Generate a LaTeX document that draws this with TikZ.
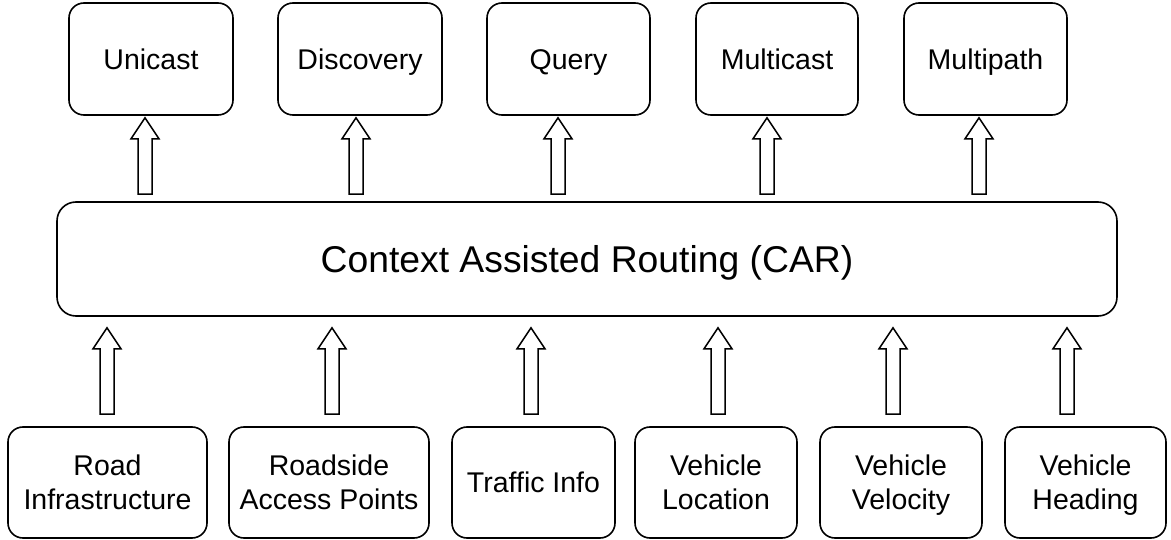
\documentclass[tikz,border=0pt]{standalone}
\usepackage{fontspec}
\setmainfont{Liberation Sans}
\usetikzlibrary{calc}
\tikzset{
  box/.style={draw, line width=1.6pt, rounded corners=15pt, minimum height=112pt,
    inner sep=0pt, text height=20.4pt, text depth=0pt, font=\fontsize{28.5}{33.5}\selectfont},
  carbox/.style={draw, line width=1.6pt, rounded corners=19pt, minimum width=1060pt,
    minimum height=114pt, inner sep=0pt, text height=26.7pt, text depth=0pt,
    font=\fontsize{37.3}{44}\selectfont},
  blockarrow/.style={draw, line width=1.5pt, fill=white, line join=miter}
}
\newcommand{\twol}[2]{\raisebox{0pt}[53.9pt][0pt]{\begin{tabular}[b]{@{}c@{}}#1\\#2\end{tabular}}}
\newcommand{\blockarr}[2]{%
  \draw[blockarrow] ($(#1)+(-7,0)$) -- ($(#2)+(-7,21)$) -- ($(#2)+(-14,21)$) -- (#2)
    -- ($(#2)+(14,21)$) -- ($(#2)+(7,21)$) -- ($(#1)+(7,0)$) -- cycle;}
\begin{document}
\begin{tikzpicture}[x=1pt, y=-1pt]
\useasboundingbox (0,0) rectangle (1171,540);
% top row
\node[box, minimum width=164pt] (uni) at (151,59) {Unicast};
\node[box, minimum width=164pt] (dis) at (360,59) {Discovery};
\node[box, minimum width=163pt] (que) at (568.5,59) {Query};
\node[box, minimum width=162pt] (mul) at (777,59) {Multicast};
\node[box, minimum width=163pt] (mup) at (985.5,59) {Multipath};
% middle
\node[carbox] (car) at (587,259) {Context Assisted Routing (CAR)};
% bottom row
\node[box, minimum width=199pt, minimum height=111pt, text height=53.9pt] (road) at (107.5,482.5) {\twol{Road}{Infrastructure}};
\node[box, minimum width=200pt, minimum height=111pt, text height=53.9pt] (rap) at (329,482.5) {\twol{Roadside}{Access Points}};
\node[box, minimum width=163pt, minimum height=111pt] (tra) at (533.5,482.5) {Traffic Info};
\node[box, minimum width=162pt, minimum height=111pt, text height=53.9pt] (loc) at (716,482.5) {\twol{Vehicle}{Location}};
\node[box, minimum width=162pt, minimum height=111pt, text height=53.9pt] (vel) at (901,482.5) {\twol{Vehicle}{Velocity}};
\node[box, minimum width=161pt, minimum height=111pt, text height=53.9pt] (hea) at (1085.5,482.5) {\twol{Vehicle}{Heading}};
% top arrow coordinates
\coordinate (t1) at ([xshift=-6pt, yshift=-2pt]uni.south);
\coordinate (s1) at ([xshift=-6pt, yshift=7pt]car.north -| uni.south);
\coordinate (t2) at ([xshift=-4pt, yshift=-2pt]dis.south);
\coordinate (s2) at ([xshift=-4pt, yshift=7pt]car.north -| dis.south);
\coordinate (t3) at ([xshift=-10.5pt, yshift=-2pt]que.south);
\coordinate (s3) at ([xshift=-10.5pt, yshift=7pt]car.north -| que.south);
\coordinate (t4) at ([xshift=-10pt, yshift=-2pt]mul.south);
\coordinate (s4) at ([xshift=-10pt, yshift=7pt]car.north -| mul.south);
\coordinate (t5) at ([xshift=-6.5pt, yshift=-2pt]mup.south);
\coordinate (s5) at ([xshift=-6.5pt, yshift=7pt]car.north -| mup.south);
\blockarr{s1}{t1}
\blockarr{s2}{t2}
\blockarr{s3}{t3}
\blockarr{s4}{t4}
\blockarr{s5}{t5}
% bottom arrow coordinates
\coordinate (b1) at ([xshift=-0.5pt, yshift=12pt]road.north);
\coordinate (c1) at ([xshift=-0.5pt, yshift=-11pt]road.north |- car.south);
\coordinate (b2) at ([xshift=3pt, yshift=12pt]rap.north);
\coordinate (c2) at ([xshift=3pt, yshift=-11pt]rap.north |- car.south);
\coordinate (b3) at ([xshift=-2.5pt, yshift=12pt]tra.north);
\coordinate (c3) at ([xshift=-2.5pt, yshift=-11pt]tra.north |- car.south);
\coordinate (b4) at ([xshift=2pt, yshift=12pt]loc.north);
\coordinate (c4) at ([xshift=2pt, yshift=-11pt]loc.north |- car.south);
\coordinate (b5) at ([xshift=-8pt, yshift=12pt]vel.north);
\coordinate (c5) at ([xshift=-8pt, yshift=-11pt]vel.north |- car.south);
\coordinate (b6) at ([xshift=-18.5pt, yshift=12pt]hea.north);
\coordinate (c6) at ([xshift=-18.5pt, yshift=-11pt]hea.north |- car.south);
\blockarr{b1}{c1}
\blockarr{b2}{c2}
\blockarr{b3}{c3}
\blockarr{b4}{c4}
\blockarr{b5}{c5}
\blockarr{b6}{c6}
\end{tikzpicture}
\end{document}
